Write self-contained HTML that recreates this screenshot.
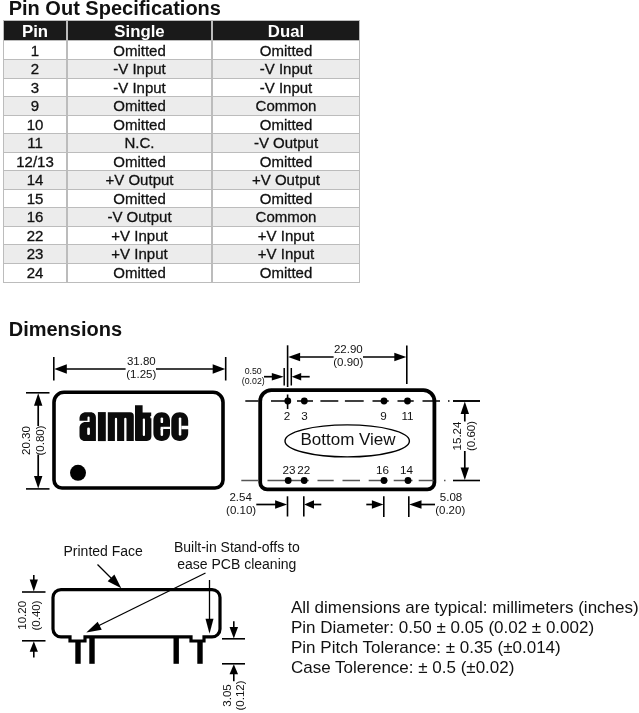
<!DOCTYPE html><html><head><meta charset="utf-8"><title>Pin Out Specifications</title><style>
html,body{margin:0;padding:0;background:#fff;}
body{width:639px;height:713px;position:relative;overflow:hidden;will-change:transform;font-family:"Liberation Sans",sans-serif;color:#111;}
.abs{position:absolute;white-space:nowrap;}
h1.t{position:absolute;margin:0;font-weight:bold;white-space:nowrap;line-height:1;transform-origin:0 0;}
.cell{-webkit-text-stroke:0.3px #111;position:absolute;text-align:center;white-space:nowrap;font-size:15px;line-height:18px;color:#111;}
.hd{position:absolute;background:#1a1a1a;color:#fff;font-weight:bold;font-size:16.8px;text-align:center;line-height:21px;overflow:hidden;}
.note{position:absolute;left:291px;font-size:17px;line-height:1;white-space:nowrap;color:#111;transform-origin:0 0;}
svg text{font-family:"Liberation Sans",sans-serif;fill:#111;}
</style></head><body>
<h1 class="t" id="t1" style="left:8.7px;top:-2.1px;font-size:20px;transform:scaleX(1.0)">Pin Out Specifications</h1>
<div class="abs" style="left:2.7px;top:20px;width:357.3px;height:263.00px;background:#bcbcbc"></div>
<div class="hd" style="left:4px;top:21px;width:62px;height:19px">Pin</div>
<div class="hd" style="left:68px;top:21px;width:143px;height:19px">Single</div>
<div class="hd" style="left:213px;top:21px;width:146px;height:19px">Dual</div>
<div class="cell" style="left:4px;top:40.90px;width:62px;height:18.45px;background:#fff;line-height:20.25px">1</div>
<div class="cell" style="left:68px;top:40.90px;width:143px;height:18.45px;background:#fff;line-height:20.25px">Omitted</div>
<div class="cell" style="left:213px;top:40.90px;width:146px;height:18.45px;background:#fff;line-height:20.25px">Omitted</div>
<div class="cell" style="left:4px;top:60.35px;width:62px;height:17.50px;background:#ececec;line-height:17.70px">2</div>
<div class="cell" style="left:68px;top:60.35px;width:143px;height:17.50px;background:#ececec;line-height:17.70px">-V Input</div>
<div class="cell" style="left:213px;top:60.35px;width:146px;height:17.50px;background:#ececec;line-height:17.70px">-V Input</div>
<div class="cell" style="left:4px;top:78.85px;width:62px;height:17.50px;background:#fff;line-height:17.70px">3</div>
<div class="cell" style="left:68px;top:78.85px;width:143px;height:17.50px;background:#fff;line-height:17.70px">-V Input</div>
<div class="cell" style="left:213px;top:78.85px;width:146px;height:17.50px;background:#fff;line-height:17.70px">-V Input</div>
<div class="cell" style="left:4px;top:97.35px;width:62px;height:17.50px;background:#ececec;line-height:17.70px">9</div>
<div class="cell" style="left:68px;top:97.35px;width:143px;height:17.50px;background:#ececec;line-height:17.70px">Omitted</div>
<div class="cell" style="left:213px;top:97.35px;width:146px;height:17.50px;background:#ececec;line-height:17.70px">Common</div>
<div class="cell" style="left:4px;top:115.85px;width:62px;height:17.50px;background:#fff;line-height:17.70px">10</div>
<div class="cell" style="left:68px;top:115.85px;width:143px;height:17.50px;background:#fff;line-height:17.70px">Omitted</div>
<div class="cell" style="left:213px;top:115.85px;width:146px;height:17.50px;background:#fff;line-height:17.70px">Omitted</div>
<div class="cell" style="left:4px;top:134.35px;width:62px;height:17.50px;background:#ececec;line-height:17.70px">11</div>
<div class="cell" style="left:68px;top:134.35px;width:143px;height:17.50px;background:#ececec;line-height:17.70px">N.C.</div>
<div class="cell" style="left:213px;top:134.35px;width:146px;height:17.50px;background:#ececec;line-height:17.70px">-V Output</div>
<div class="cell" style="left:4px;top:152.85px;width:62px;height:17.50px;background:#fff;line-height:17.70px">12/13</div>
<div class="cell" style="left:68px;top:152.85px;width:143px;height:17.50px;background:#fff;line-height:17.70px">Omitted</div>
<div class="cell" style="left:213px;top:152.85px;width:146px;height:17.50px;background:#fff;line-height:17.70px">Omitted</div>
<div class="cell" style="left:4px;top:171.35px;width:62px;height:17.50px;background:#ececec;line-height:17.70px">14</div>
<div class="cell" style="left:68px;top:171.35px;width:143px;height:17.50px;background:#ececec;line-height:17.70px">+V Output</div>
<div class="cell" style="left:213px;top:171.35px;width:146px;height:17.50px;background:#ececec;line-height:17.70px">+V Output</div>
<div class="cell" style="left:4px;top:189.85px;width:62px;height:17.50px;background:#fff;line-height:17.70px">15</div>
<div class="cell" style="left:68px;top:189.85px;width:143px;height:17.50px;background:#fff;line-height:17.70px">Omitted</div>
<div class="cell" style="left:213px;top:189.85px;width:146px;height:17.50px;background:#fff;line-height:17.70px">Omitted</div>
<div class="cell" style="left:4px;top:208.35px;width:62px;height:17.50px;background:#ececec;line-height:17.70px">16</div>
<div class="cell" style="left:68px;top:208.35px;width:143px;height:17.50px;background:#ececec;line-height:17.70px">-V Output</div>
<div class="cell" style="left:213px;top:208.35px;width:146px;height:17.50px;background:#ececec;line-height:17.70px">Common</div>
<div class="cell" style="left:4px;top:226.85px;width:62px;height:17.50px;background:#fff;line-height:17.70px">22</div>
<div class="cell" style="left:68px;top:226.85px;width:143px;height:17.50px;background:#fff;line-height:17.70px">+V Input</div>
<div class="cell" style="left:213px;top:226.85px;width:146px;height:17.50px;background:#fff;line-height:17.70px">+V Input</div>
<div class="cell" style="left:4px;top:245.35px;width:62px;height:17.35px;background:#ececec;line-height:17.55px">23</div>
<div class="cell" style="left:68px;top:245.35px;width:143px;height:17.35px;background:#ececec;line-height:17.55px">+V Input</div>
<div class="cell" style="left:213px;top:245.35px;width:146px;height:17.35px;background:#ececec;line-height:17.55px">+V Input</div>
<div class="cell" style="left:4px;top:263.70px;width:62px;height:17.90px;background:#fff;line-height:18.10px">24</div>
<div class="cell" style="left:68px;top:263.70px;width:143px;height:17.90px;background:#fff;line-height:18.10px">Omitted</div>
<div class="cell" style="left:213px;top:263.70px;width:146px;height:17.90px;background:#fff;line-height:18.10px">Omitted</div>
<h1 class="t" id="t2" style="left:8.7px;top:319.4px;font-size:20px;transform:scaleX(1.0)">Dimensions</h1>
<div class="note" id="n0" style="top:598.6px">All dimensions are typical: millimeters (inches)</div>
<div class="note" id="n1" style="top:618.8px">Pin Diameter: 0.50 ± 0.05 (0.02 ± 0.002)</div>
<div class="note" id="n2" style="top:639.0px">Pin Pitch Tolerance: ± 0.35 (±0.014)</div>
<div class="note" id="n3" style="top:659.2px">Case Tolerence: ± 0.5 (±0.02)</div>
<svg width="639" height="713" viewBox="0 0 639 713" style="position:absolute;left:0;top:0">
<path d="M64.00,392.30 H213.00 A10.00,10.00 0 0 1 223.00,402.30 V480.00 A8.00,8.00 0 0 1 215.00,488.00 H62.00 A8.00,8.00 0 0 1 54.00,480.00 V402.30 A10.00,10.00 0 0 1 64.00,392.30 Z" fill="none" stroke="#000" stroke-width="3.60"/>
<line x1="53.80" y1="357.00" x2="53.80" y2="380.50" stroke="#000" stroke-width="1.60" />
<line x1="225.70" y1="357.00" x2="225.70" y2="380.50" stroke="#000" stroke-width="1.60" />
<line x1="60.00" y1="369.00" x2="125.60" y2="369.00" stroke="#000" stroke-width="1.70" />
<line x1="156.00" y1="369.00" x2="220.00" y2="369.00" stroke="#000" stroke-width="1.70" />
<polygon points="54.30,369.00 66.80,364.30 66.80,373.70" fill="#000"/>
<polygon points="225.20,369.00 212.70,373.70 212.70,364.30" fill="#000"/>
<text x="141.30" y="365.00" font-size="11.50" text-anchor="middle" fill="#111" >31.80</text>
<text x="141.30" y="377.80" font-size="11.50" text-anchor="middle" fill="#111" >(1.25)</text>
<line x1="26.00" y1="392.80" x2="49.50" y2="392.80" stroke="#000" stroke-width="1.60" />
<line x1="26.00" y1="488.90" x2="49.50" y2="488.90" stroke="#000" stroke-width="1.60" />
<line x1="38.20" y1="400.00" x2="38.20" y2="426.00" stroke="#000" stroke-width="1.70" />
<line x1="38.20" y1="454.50" x2="38.20" y2="482.00" stroke="#000" stroke-width="1.70" />
<polygon points="38.20,393.30 42.40,405.80 34.00,405.80" fill="#000"/>
<polygon points="38.20,488.40 34.00,475.90 42.40,475.90" fill="#000"/>
<text x="30.20" y="440.50" font-size="11.50" text-anchor="middle" fill="#111" transform="rotate(-90 30.20 440.50)" >20.30</text>
<text x="44.00" y="440.50" font-size="11.50" text-anchor="middle" fill="#111" transform="rotate(-90 44.00 440.50)" >(0.80)</text>
<circle cx="78.00" cy="472.80" r="8.00" fill="#000"/>
<g><path d="M79.5,420.7 V418.6 C79.5,414.6 82.3,412.3 86,412.3 H90.6 C93.8,412.3 95.9,414.4 95.9,417.6 V440.9 H85 C81.6,440.9 79.5,438.6 79.5,435.4 V428.2 C79.5,424.4 82,422 85.6,422 H89.6 V417.6 A1,1 0 0 0 87.5,417.6 V420.7 Z" fill="#0b0b0b" fill-rule="nonzero"/>
<rect x="87.20" y="427.40" width="2.70" height="7.70" rx="1.30" fill="#fff"/>
<path d="M97.9,412.1 H105.8 V441.1 H97.9 Z" fill="#0b0b0b" fill-rule="nonzero"/>
<path d="M107.8,412.3 H130.2 A3.6,3.6 0 0 1 133.8,415.9 V440.9 H126.5 V418.9 A1.15,1.15 0 0 0 124.2,418.9 V440.9 H117.1 V418.9 A1.1,1.1 0 0 0 114.9,418.9 V440.9 H107.8 Z" fill="#0b0b0b" fill-rule="nonzero"/>
<path d="M135,405.3 H142.6 V412.4 H151.2 V416.1 H150.4 V418.2 H151.4 V436.6 C151.4,439.4 149.6,440.9 147,440.9 H136 A1,1 0 0 1 135,439.9 Z" fill="#0b0b0b" fill-rule="nonzero"/>
<rect x="142.80" y="418.40" width="2.20" height="17.50" rx="1.00" fill="#fff"/>
<path d="M161.7,412.3 C166.8,412.3 170,415.6 170,420.4 V426.8 H163.1 V429 H170 V433 C170,437.8 166.8,440.9 161.7,440.9 C156.6,440.9 153.4,437.8 153.4,433 V420.4 C153.4,415.6 156.6,412.3 161.7,412.3 Z" fill="#0b0b0b" fill-rule="nonzero"/>
<rect x="160.60" y="417.40" width="2.50" height="5.70" rx="1.20" fill="#fff"/>
<rect x="160.60" y="428.00" width="2.50" height="7.90" rx="1.20" fill="#fff"/>
<rect x="160.6" y="426.8" width="2.5" height="3" fill="#fff"/>
<path d="M179.8,412.3 C184.9,412.3 188.2,415.6 188.2,420.4 V425.8 H181.3 V429.3 H188.2 V433 C188.2,437.8 184.9,440.9 179.8,440.9 C174.6,440.9 171.3,437.8 171.3,433 V420.4 C171.3,415.6 174.6,412.3 179.8,412.3 Z" fill="#0b0b0b" fill-rule="nonzero"/>
<rect x="178.80" y="417.40" width="2.50" height="18.20" rx="1.20" fill="#fff"/></g>
<path d="M271.20,390.20 H423.40 A11.00,11.00 0 0 1 434.40,401.20 V482.40 A7.00,7.00 0 0 1 427.40,489.40 H267.20 A7.00,7.00 0 0 1 260.20,482.40 V401.20 A11.00,11.00 0 0 1 271.20,390.20 Z" fill="none" stroke="#000" stroke-width="3.80"/>
<line x1="245.30" y1="401.00" x2="258.50" y2="401.00" stroke="#000" stroke-width="1.50" />
<line x1="271.00" y1="401.00" x2="289.00" y2="401.00" stroke="#000" stroke-width="1.50" />
<line x1="297.00" y1="401.00" x2="313.00" y2="401.00" stroke="#000" stroke-width="1.50" />
<line x1="320.40" y1="401.00" x2="338.30" y2="401.00" stroke="#000" stroke-width="1.50" />
<line x1="344.90" y1="401.00" x2="363.70" y2="401.00" stroke="#000" stroke-width="1.50" />
<line x1="372.50" y1="401.00" x2="388.70" y2="401.00" stroke="#000" stroke-width="1.50" />
<line x1="397.50" y1="401.00" x2="413.70" y2="401.00" stroke="#000" stroke-width="1.50" />
<line x1="422.50" y1="401.00" x2="440.00" y2="401.00" stroke="#000" stroke-width="1.50" />
<line x1="448.00" y1="401.00" x2="449.50" y2="401.00" stroke="#000" stroke-width="1.50" />
<line x1="453.00" y1="401.00" x2="480.00" y2="401.00" stroke="#000" stroke-width="1.50" />
<line x1="241.30" y1="480.50" x2="258.50" y2="480.50" stroke="#555" stroke-width="1.50" />
<line x1="267.50" y1="480.50" x2="308.70" y2="480.50" stroke="#555" stroke-width="1.50" />
<line x1="317.50" y1="480.50" x2="333.70" y2="480.50" stroke="#555" stroke-width="1.50" />
<line x1="342.50" y1="480.50" x2="360.00" y2="480.50" stroke="#555" stroke-width="1.50" />
<line x1="368.70" y1="480.50" x2="387.50" y2="480.50" stroke="#555" stroke-width="1.50" />
<line x1="393.70" y1="480.50" x2="412.50" y2="480.50" stroke="#555" stroke-width="1.50" />
<line x1="418.70" y1="480.50" x2="433.70" y2="480.50" stroke="#555" stroke-width="1.50" />
<line x1="444.00" y1="480.50" x2="445.50" y2="480.50" stroke="#555" stroke-width="1.50" />
<line x1="453.00" y1="480.50" x2="480.00" y2="480.50" stroke="#000" stroke-width="1.60" />
<circle cx="287.80" cy="401.00" r="3.40" fill="#000"/>
<circle cx="304.30" cy="401.00" r="3.40" fill="#000"/>
<circle cx="384.00" cy="401.00" r="3.40" fill="#000"/>
<circle cx="407.50" cy="401.00" r="3.40" fill="#000"/>
<circle cx="288.20" cy="480.50" r="3.40" fill="#000"/>
<circle cx="304.20" cy="480.50" r="3.40" fill="#000"/>
<circle cx="384.00" cy="480.50" r="3.40" fill="#000"/>
<circle cx="408.00" cy="480.50" r="3.40" fill="#000"/>
<text x="287.00" y="419.60" font-size="11.70" text-anchor="middle" fill="#111" >2</text>
<text x="304.50" y="419.60" font-size="11.70" text-anchor="middle" fill="#111" >3</text>
<text x="383.50" y="419.60" font-size="11.70" text-anchor="middle" fill="#111" >9</text>
<text x="407.50" y="419.60" font-size="11.70" text-anchor="middle" fill="#111" >11</text>
<text x="289.00" y="474.30" font-size="11.70" text-anchor="middle" fill="#111" >23</text>
<text x="303.70" y="474.30" font-size="11.70" text-anchor="middle" fill="#111" >22</text>
<text x="382.50" y="474.30" font-size="11.70" text-anchor="middle" fill="#111" >16</text>
<text x="406.50" y="474.30" font-size="11.70" text-anchor="middle" fill="#111" >14</text>
<ellipse cx="347.2" cy="440.9" rx="62.2" ry="16.0" fill="none" stroke="#000" stroke-width="1.4"/>
<text x="348.00" y="445.30" font-size="17.00" text-anchor="middle" fill="#111" >Bottom View</text>
<line x1="287.60" y1="345.30" x2="287.60" y2="387.00" stroke="#000" stroke-width="1.60" />
<line x1="287.60" y1="394.50" x2="287.60" y2="409.00" stroke="#000" stroke-width="1.60" />
<line x1="406.80" y1="345.50" x2="406.80" y2="384.00" stroke="#000" stroke-width="1.60" />
<line x1="298.00" y1="357.00" x2="333.60" y2="357.00" stroke="#000" stroke-width="1.70" />
<line x1="363.00" y1="357.00" x2="396.00" y2="357.00" stroke="#000" stroke-width="1.70" />
<polygon points="288.10,357.00 300.10,352.70 300.10,361.30" fill="#000"/>
<polygon points="406.30,357.00 394.30,361.30 394.30,352.70" fill="#000"/>
<text x="348.30" y="353.00" font-size="11.50" text-anchor="middle" fill="#111" >22.90</text>
<text x="348.30" y="365.80" font-size="11.50" text-anchor="middle" fill="#111" >(0.90)</text>
<line x1="284.20" y1="368.00" x2="284.20" y2="385.50" stroke="#000" stroke-width="1.50" />
<line x1="291.30" y1="368.00" x2="291.30" y2="385.50" stroke="#000" stroke-width="1.50" />
<line x1="264.00" y1="376.70" x2="273.00" y2="376.70" stroke="#000" stroke-width="1.70" />
<line x1="300.00" y1="376.70" x2="309.70" y2="376.70" stroke="#000" stroke-width="1.70" />
<polygon points="283.80,376.70 271.80,380.50 271.80,372.90" fill="#000"/>
<polygon points="291.70,376.70 301.20,372.90 301.20,380.50" fill="#000"/>
<text x="253.20" y="374.20" font-size="8.80" text-anchor="middle" fill="#333" >0.50</text>
<text x="253.30" y="384.20" font-size="8.80" text-anchor="middle" fill="#333" >(0.02)</text>
<line x1="464.80" y1="412.00" x2="464.80" y2="421.50" stroke="#000" stroke-width="1.70" />
<line x1="464.80" y1="451.00" x2="464.80" y2="470.00" stroke="#000" stroke-width="1.70" />
<polygon points="464.80,401.50 469.00,414.00 460.60,414.00" fill="#000"/>
<polygon points="464.80,480.00 460.60,467.50 469.00,467.50" fill="#000"/>
<line x1="453.00" y1="401.00" x2="480.00" y2="401.00" stroke="#000" stroke-width="1.60" />
<text x="461.00" y="436.00" font-size="11.50" text-anchor="middle" fill="#111" transform="rotate(-90 461.00 436.00)" >15.24</text>
<text x="475.00" y="436.00" font-size="11.50" text-anchor="middle" fill="#111" transform="rotate(-90 475.00 436.00)" >(0.60)</text>
<line x1="287.50" y1="496.30" x2="287.50" y2="516.50" stroke="#000" stroke-width="1.60" />
<line x1="303.80" y1="496.30" x2="303.80" y2="516.50" stroke="#000" stroke-width="1.60" />
<line x1="256.30" y1="504.50" x2="277.00" y2="504.50" stroke="#000" stroke-width="1.70" />
<line x1="312.00" y1="504.50" x2="321.30" y2="504.50" stroke="#000" stroke-width="1.70" />
<polygon points="287.10,504.50 275.10,508.80 275.10,500.20" fill="#000"/>
<polygon points="304.20,504.50 314.00,500.20 314.00,508.80" fill="#000"/>
<text x="240.60" y="501.30" font-size="11.50" text-anchor="middle" fill="#111" >2.54</text>
<text x="241.10" y="514.00" font-size="11.50" text-anchor="middle" fill="#111" >(0.10)</text>
<line x1="383.80" y1="496.30" x2="383.80" y2="517.00" stroke="#000" stroke-width="1.60" />
<line x1="408.80" y1="496.30" x2="408.80" y2="517.00" stroke="#000" stroke-width="1.60" />
<line x1="366.30" y1="504.50" x2="374.00" y2="504.50" stroke="#000" stroke-width="1.70" />
<line x1="420.00" y1="504.50" x2="435.00" y2="504.50" stroke="#000" stroke-width="1.70" />
<polygon points="383.40,504.50 371.90,508.80 371.90,500.20" fill="#000"/>
<polygon points="409.20,504.50 421.50,500.20 421.50,508.80" fill="#000"/>
<text x="451.00" y="501.30" font-size="11.50" text-anchor="middle" fill="#111" >5.08</text>
<text x="450.20" y="514.00" font-size="11.50" text-anchor="middle" fill="#111" >(0.20)</text>
<path d="M61,589.6 H212 A8,8 0 0 1 220,597.6 V628.9 A8,8 0 0 1 212,636.9 H204 V641 H191 V636.9 H85 V641 H70 V636.9 H61 A8,8 0 0 1 53,628.9 V597.6 A8,8 0 0 1 61,589.6 Z" fill="none" stroke="#000" stroke-width="3.2" stroke-linejoin="miter"/>
<line x1="78.00" y1="641.00" x2="78.00" y2="663.80" stroke="#000" stroke-width="5.40" />
<line x1="92.00" y1="637.00" x2="92.00" y2="663.80" stroke="#000" stroke-width="5.40" />
<line x1="176.20" y1="637.00" x2="176.20" y2="663.80" stroke="#000" stroke-width="5.40" />
<line x1="200.00" y1="641.00" x2="200.00" y2="663.80" stroke="#000" stroke-width="5.40" />
<line x1="22.00" y1="592.00" x2="45.50" y2="592.00" stroke="#000" stroke-width="1.60" />
<line x1="22.00" y1="640.80" x2="45.50" y2="640.80" stroke="#000" stroke-width="1.60" />
<line x1="33.80" y1="575.00" x2="33.80" y2="582.00" stroke="#000" stroke-width="1.60" />
<line x1="33.80" y1="650.00" x2="33.80" y2="657.50" stroke="#000" stroke-width="1.60" />
<polygon points="33.80,591.60 29.70,579.40 37.90,579.40" fill="#000"/>
<polygon points="33.80,641.20 37.90,651.70 29.70,651.70" fill="#000"/>
<text x="26.50" y="615.30" font-size="11.50" text-anchor="middle" fill="#111" transform="rotate(-90 26.50 615.30)" >10.20</text>
<text x="40.30" y="615.50" font-size="11.50" text-anchor="middle" fill="#111" transform="rotate(-90 40.30 615.50)" >(0.40)</text>
<line x1="222.00" y1="638.80" x2="245.00" y2="638.80" stroke="#000" stroke-width="1.60" />
<line x1="222.00" y1="663.80" x2="245.00" y2="663.80" stroke="#000" stroke-width="1.60" />
<line x1="233.80" y1="621.30" x2="233.80" y2="629.00" stroke="#000" stroke-width="1.60" />
<line x1="233.80" y1="672.00" x2="233.80" y2="681.30" stroke="#000" stroke-width="1.60" />
<polygon points="233.80,638.40 229.55,626.90 238.05,626.90" fill="#000"/>
<polygon points="233.80,664.20 238.05,674.20 229.55,674.20" fill="#000"/>
<text x="230.50" y="695.50" font-size="11.50" text-anchor="middle" fill="#111" transform="rotate(-90 230.50 695.50)" >3.05</text>
<text x="244.20" y="695.50" font-size="11.50" text-anchor="middle" fill="#111" transform="rotate(-90 244.20 695.50)" >(0.12)</text>
<text x="103.20" y="556.30" font-size="14.00" text-anchor="middle" fill="#111" >Printed Face</text>
<text x="236.80" y="552.40" font-size="14.00" text-anchor="middle" fill="#111" >Built-in Stand-offs to</text>
<text x="236.80" y="569.10" font-size="14.00" text-anchor="middle" fill="#111" >ease PCB cleaning</text>
<line x1="97.50" y1="564.50" x2="114.00" y2="581.00" stroke="#000" stroke-width="1.30" />
<polygon points="121.30,588.20 107.67,581.33 114.38,574.60" fill="#000"/>
<line x1="205.50" y1="573.00" x2="97.00" y2="626.50" stroke="#000" stroke-width="1.30" />
<polygon points="86.30,632.50 97.71,621.77 101.73,629.83" fill="#000"/>
<line x1="209.50" y1="580.00" x2="209.50" y2="620.00" stroke="#000" stroke-width="1.30" />
<polygon points="209.50,633.80 205.50,618.80 213.50,618.80" fill="#000"/>
</svg>
</body></html>
